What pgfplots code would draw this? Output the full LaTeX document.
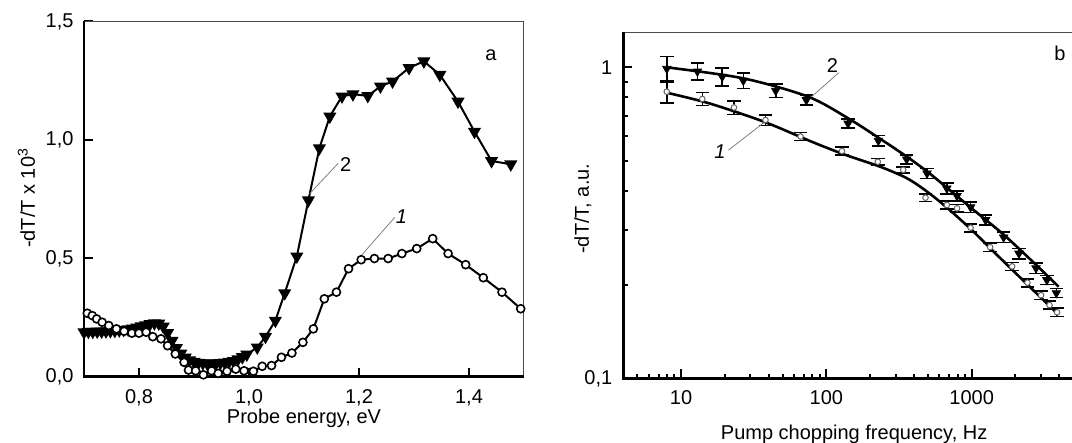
\documentclass[border=0pt]{standalone}
\usepackage{pgfplots}
\pgfplotsset{compat=1.18}
\usepackage{fontspec}
\setmainfont{Liberation Sans}
\begin{document}
\fontsize{10pt}{12pt}\selectfont
\begin{tikzpicture}
\useasboundingbox (0pt,0pt) rectangle (536pt,-221.5pt);
% ---------------- panel a ----------------
\begin{axis}[
  at={(42pt,-188.35pt)}, anchor=south west,
  scale only axis, width=220pt, height=177.6pt,
  xmin=0.7, xmax=1.5, ymin=0, ymax=1.5,
  xtick={0.8,1.0,1.2,1.4}, xticklabels={{0,8},{1,0},{1,2},{1,4}},
  ytick={0,0.5,1,1.5}, yticklabels={{0,0},{0,5},{1,0},{1,5}},
  tick align=inside, tick pos=left, major tick length=4.5pt,
  tick style={line width=1pt, black},
  axis line style={line width=0.5pt, black!70},
  xticklabel style={yshift=-3pt},
  yticklabel style={xshift=-1.7pt},
  xlabel={Probe energy, eV},
  ylabel={-dT/T x 10\textsuperscript{3}},
  xlabel style={at={(axis description cs:0.5,-0.116)}, anchor=center},
  ylabel style={at={(axis description cs:-0.131,0.503)}, anchor=center},
  clip=false,
]
\addplot[black, line width=1pt, mark=triangle*, mark size=2.8pt, mark options={rotate=180, fill=black}] coordinates {
(0.700,0.188)(0.708,0.190)(0.716,0.190)(0.724,0.191)(0.732,0.191)(0.740,0.192)
(0.748,0.193)(0.756,0.194)(0.764,0.196)(0.772,0.198)(0.780,0.201)(0.788,0.204)
(0.796,0.208)(0.804,0.213)(0.812,0.218)(0.820,0.223)(0.828,0.226)(0.836,0.225)
(0.844,0.212)(0.852,0.185)(0.860,0.152)(0.868,0.122)(0.876,0.098)(0.884,0.081)
(0.892,0.070)(0.900,0.063)(0.908,0.059)(0.916,0.057)(0.924,0.056)(0.932,0.056)
(0.940,0.057)(0.948,0.058)(0.956,0.060)(0.964,0.063)(0.972,0.067)(0.980,0.074)
(0.988,0.083)(0.996,0.094)(1.015,0.124)(1.030,0.169)(1.048,0.237)(1.065,0.353)
(1.087,0.508)(1.108,0.745)(1.128,0.965)(1.147,1.099)(1.169,1.184)(1.189,1.193)
(1.216,1.186)(1.239,1.226)(1.261,1.247)(1.291,1.304)(1.318,1.332)(1.347,1.275)
(1.380,1.162)(1.410,1.035)(1.441,0.911)(1.476,0.897)};
\addplot[black, line width=1pt, mark=*, mark size=2pt, mark options={fill=white, line width=0.8pt}] coordinates {
(0.706,0.268)(0.715,0.258)(0.723,0.244)(0.733,0.230)(0.745,0.216)(0.759,0.202)
(0.773,0.192)(0.787,0.184)(0.800,0.184)(0.813,0.188)(0.825,0.169)(0.840,0.160)
(0.852,0.131)(0.866,0.096)(0.882,0.061)(0.890,0.028)(0.903,0.025)(0.917,0.008)
(0.932,0.025)(0.944,0.014)(0.960,0.023)(0.976,0.032)(0.991,0.025)(1.008,0.023)
(1.024,0.044)(1.041,0.047)(1.059,0.082)(1.078,0.100)(1.098,0.145)(1.117,0.202)
(1.137,0.329)(1.159,0.357)(1.181,0.456)(1.204,0.494)(1.228,0.499)(1.253,0.499)
(1.278,0.520)(1.305,0.541)(1.334,0.583)(1.362,0.520)(1.394,0.473)(1.426,0.418)
(1.460,0.357)(1.494,0.287)};
\draw[gray, line width=0.4pt] (axis cs:1.110,0.772) -- (axis cs:1.162,0.901);
\node[anchor=center] at (axis cs:1.176,0.894) {2};
\draw[gray, line width=0.4pt] (axis cs:1.205,0.514) -- (axis cs:1.265,0.673);
\node[anchor=center] at (axis cs:1.277,0.676) {\itshape 1};
\node[anchor=center] at (axis cs:1.440,1.358) {a};
\draw[line width=1.3pt] (rel axis cs:0,1) -- (rel axis cs:0,0) -- (rel axis cs:1,0);
\end{axis}
% ---------------- panel b ----------------
\begin{axis}[
  at={(311.65pt,-189.15pt)}, anchor=south west,
  scale only axis, width=230.85pt, height=173pt,
  xmode=log, ymode=log,
  xmin=4, xmax=6030, ymin=0.1, ymax=1.296,
  xtick={10,100,1000}, xticklabels={10,100,1000},
  ytick={0.1,1}, yticklabels={{0,1},1},
  minor xtick={5,6,7,8,9,20,30,40,50,60,70,80,90,200,300,400,500,600,700,800,900,2000,3000,4000,5000,6000},
  minor ytick={0.2,0.3,0.4,0.5,0.6,0.7,0.8,0.9},
  tick align=inside, tick pos=left, major tick length=4.5pt, minor tick length=2.2pt,
  tick style={line width=1pt, black},
  axis line style={line width=0.5pt, black!70},
  xticklabel style={yshift=-2.7pt},
  yticklabel style={xshift=-2pt},
  xlabel={Pump chopping frequency, Hz},
  ylabel={-dT/T, a.u.},
  xlabel style={at={(axis description cs:0.5,-0.161)}, anchor=center},
  ylabel style={at={(axis description cs:-0.0873,0.49)}, anchor=center},
  clip=false,
]
\addplot[black, line width=1.3pt, smooth, no markers] coordinates {
(7.93,1.0)(26.7,0.922)(74.6,0.805)(141,0.686)(232,0.591)(358,0.516)(495,0.462)
(685,0.408)(1000,0.352)(1671,0.289)(2793,0.231)(3972,0.197)};
\addplot[black, line width=1.3pt, smooth, no markers] coordinates {
(7.93,0.829)(15.6,0.766)(37.0,0.669)(78.9,0.577)(135,0.523)(232,0.480)(358,0.440)
(495,0.398)(685,0.352)(1000,0.300)(1459,0.252)(2249,0.207)(3864,0.162)};
\addplot[only marks, black, mark=triangle*, mark size=2.4pt, mark options={rotate=180, fill=black},
  error bars/.cd, y dir=both, y explicit,
  error bar style={line width=0.8pt, black},
  error mark options={rotate=90, line width=0.8pt, mark size=3.4pt, black}] coordinates {
(7.97,0.99) +- (0,0.092)
(12.95,0.97) +- (0,0.061)
(19.2,0.933) +- (0,0.064)
(26.8,0.906) +- (0,0.051)
(44.8,0.841) +- (0,0.042)
(72.8,0.785) +- (0,0.030)
(141,0.660) +- (0,0.023)
(228,0.581) +- (0,0.022)
(357,0.506) +- (0,0.017)
(493,0.456) +- (0,0.017)
(675,0.408) +- (0,0.016)
(793,0.386) +- (0,0.015)
(984,0.355) +- (0,0.014)
(1247,0.323) +- (0,0.012)
(1660,0.284) +- (0,0.011)
(2117,0.252) +- (0,0.0096)
(2773,0.226) +- (0,0.0086)
(3296,0.207) +- (0,0.0068)
(3830,0.188) +- (0,0.0062)};
\addplot[only marks, black!60, mark=*, mark size=1.4pt, mark options={fill=white, draw=black!60, line width=0.5pt},
  error bars/.cd, y dir=both, y explicit,
  error bar style={line width=0.8pt, black},
  error mark options={rotate=90, line width=0.8pt, mark size=3.4pt, black}] coordinates {
(7.97,0.835) +- (0,0.068)
(14.0,0.791) +- (0,0.038)
(23.1,0.743) +- (0,0.037)
(38.1,0.677) +- (0,0.027)
(66.4,0.599) +- (0,0.018)
(128,0.538) +- (0,0.016)
(226,0.497) +- (0,0.012)
(338,0.468) +- (0,0.010)
(481,0.381) +- (0,0.011)
(675,0.361) +- (0,0.010)
(793,0.352) +- (0,0.010)
(984,0.305) +- (0,0.009)
(1341,0.264) +- (0,0.008)
(1901,0.229) +- (0,0.007)
(2421,0.203) +- (0,0.006)
(3006,0.185) +- (0,0.0055)
(3438,0.172) +- (0,0.005)
(3874,0.163) +- (0,0.005)};
\draw[gray, line width=0.4pt] (axis cs:79.1,0.804) -- (axis cs:121.7,0.961);
\node[anchor=center] at (axis cs:110,1.017) {2};
\draw[gray, line width=0.4pt] (axis cs:21.2,0.542) -- (axis cs:37.8,0.668);
\node[anchor=center] at (axis cs:18.5,0.535) {\itshape 1};
\node[anchor=center] at (axis cs:4055,1.109) {b};
\draw[line width=1.3pt] (rel axis cs:0,1) -- (rel axis cs:0,0) -- (rel axis cs:1,0);
\end{axis}
\end{tikzpicture}
\end{document}
